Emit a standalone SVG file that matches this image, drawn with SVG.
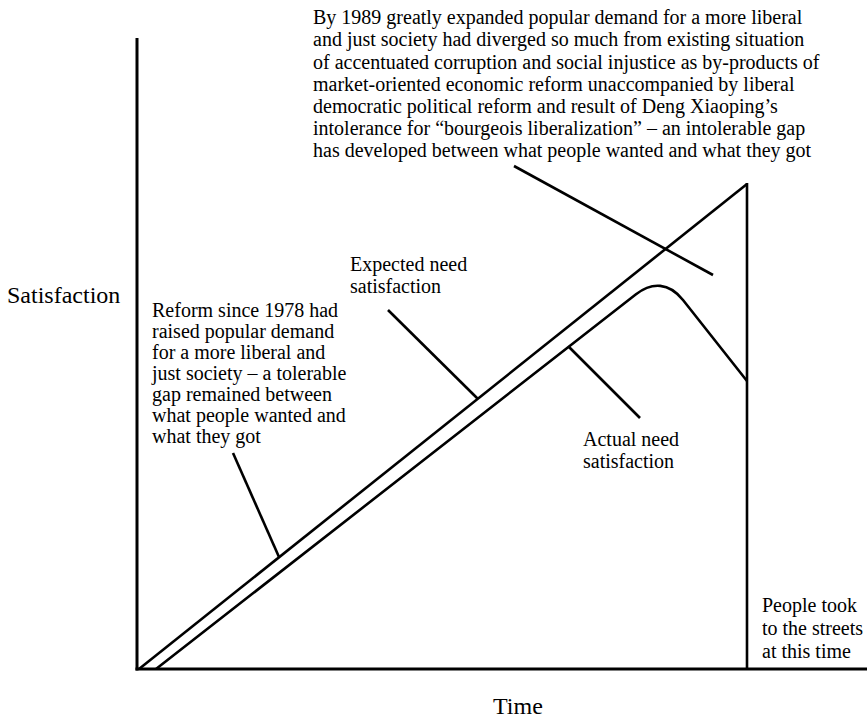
<svg xmlns="http://www.w3.org/2000/svg" width="867" height="720" viewBox="0 0 867 720">
  <style>
    text { font-family: 'Liberation Serif', 'Times New Roman', Tinos, 'DejaVu Serif', serif; font-size: 20px; fill: #000; }
    .big { font-size: 24px; }
    .ln { fill: none; stroke: #000; stroke-width: 2.6; stroke-linecap: butt; stroke-linejoin: round; }
    .ax { fill: none; stroke: #000; stroke-width: 3; }
  </style>
  <rect x="0" y="0" width="867" height="720" fill="#fff"/>

  <g id="axes">
    <line class="ax" x1="137" y1="38" x2="137" y2="670.5"/>
    <line class="ax" x1="135.5" y1="669" x2="867" y2="669"/>
    <line class="ln" x1="747" y1="183" x2="747" y2="669"/>
  </g>

  <g id="expected-curve">
    <path class="ln" d="M139,669 L747,184"/>
  </g>

  <g id="actual-curve">
    <path class="ln" d="M156,669 L636,294.3 C652,281.8 669,282.5 683,300 L747,381"/>
  </g>

  <g id="label-satisfaction" font-family="Liberation Serif, serif">
    <text class="big" x="7" y="303">Satisfaction</text>
  </g>

  <g id="label-time" font-family="Liberation Serif, serif">
    <text class="big" x="493" y="714">Time</text>
  </g>

  <g id="note-1989" font-family="Liberation Serif, serif">
    <text x="313" y="24">By 1989 greatly expanded popular demand for a more liberal</text>
    <text x="313" y="46">and just society had diverged so much from existing situation</text>
    <text x="313" y="68.5">of accentuated corruption and social injustice as by-products of</text>
    <text x="313" y="90.5">market-oriented economic reform unaccompanied by liberal</text>
    <text x="313" y="113">democratic political reform and result of Deng Xiaoping’s</text>
    <text x="313" y="135">intolerance for “bourgeois liberalization” – an intolerable gap</text>
    <text x="313" y="157">has developed between what people wanted and what they got</text>
  </g>

  <g id="note-1978" font-family="Liberation Serif, serif">
    <text x="152" y="317">Reform since 1978 had</text>
    <text x="152" y="338">raised popular demand</text>
    <text x="152" y="359">for a more liberal and</text>
    <text x="152" y="380">just society – a tolerable</text>
    <text x="152" y="401">gap remained between</text>
    <text x="152" y="422">what people wanted and</text>
    <text x="152" y="443">what they got</text>
  </g>

  <g id="label-expected" font-family="Liberation Serif, serif">
    <text x="350" y="271">Expected need</text>
    <text x="350" y="293">satisfaction</text>
  </g>

  <g id="label-actual" font-family="Liberation Serif, serif">
    <text x="583" y="446">Actual need</text>
    <text x="583" y="468">satisfaction</text>
  </g>

  <g id="label-streets" font-family="Liberation Serif, serif">
    <text x="762" y="612">People took</text>
    <text x="762" y="635">to the streets</text>
    <text x="762" y="658">at this time</text>
  </g>

  <g id="connectors">
    <line class="ln" x1="514" y1="166" x2="713" y2="275"/>
    <line class="ln" x1="388" y1="310" x2="478" y2="399"/>
    <line class="ln" x1="569" y1="347" x2="640" y2="418"/>
    <line class="ln" x1="233" y1="453" x2="279" y2="557"/>
  </g>
</svg>
